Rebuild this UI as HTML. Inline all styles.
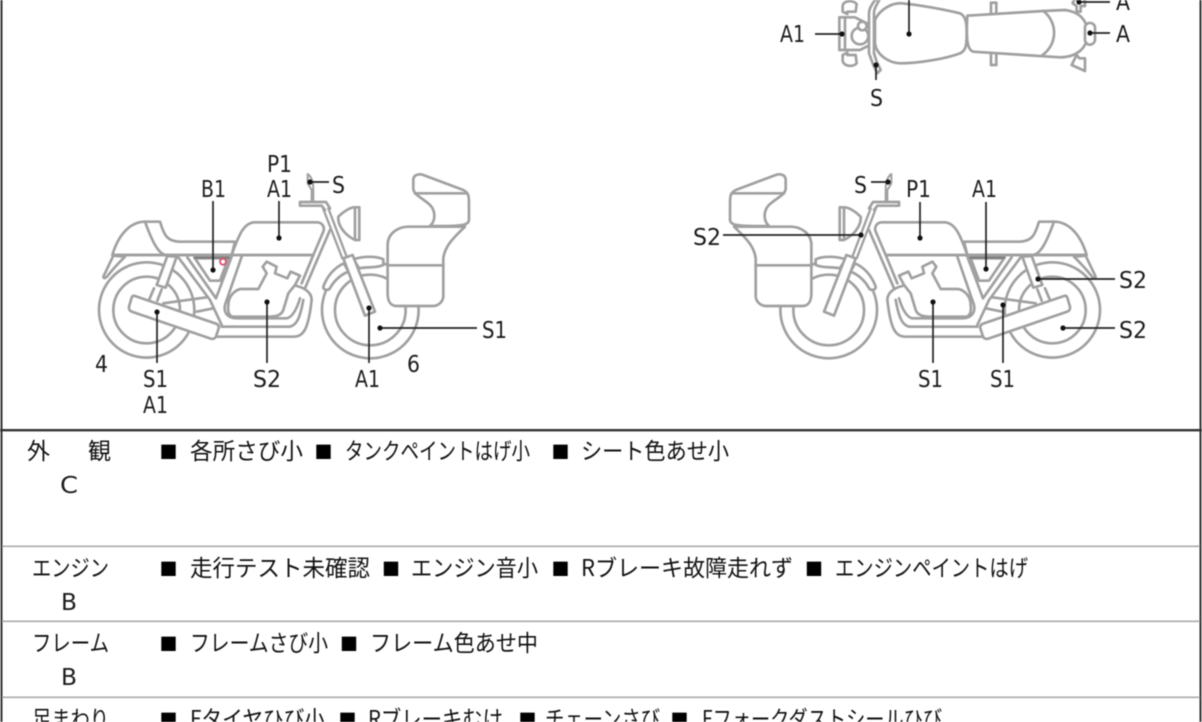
<!DOCTYPE html>
<html lang="ja"><head><meta charset="utf-8"><title>Motorcycle condition sheet</title>
<style>
html,body{margin:0;padding:0;background:#fff;width:1202px;height:722px;overflow:hidden}
svg{display:block;filter:blur(.4px)}
text{font-family:"Liberation Sans","Noto Sans CJK JP",sans-serif;fill:#222}
.j{font-family:"Noto Sans CJK JP",sans-serif;font-size:23px;fill:#111}
.l{font-family:"DejaVu Sans","Noto Sans CJK JP",sans-serif;font-size:23.5px;fill:#1c1c1c}
.m{font-family:"Noto Sans CJK JP",sans-serif;font-size:18px;fill:#000}
.d path,.d circle{fill:#fff;stroke:#a0a0a0;stroke-width:8;stroke-linejoin:round;stroke-linecap:round}
.d path.n{fill:none}
.k line{stroke:#222;stroke-width:1.7}
.k circle{fill:#111}
</style></head><body>
<svg width="1202" height="722" viewBox="0 0 1202 722" xmlns="http://www.w3.org/2000/svg">
<rect width="1202" height="722" fill="#fff"/>
<defs>
<g id="bike" class="d">
<circle cx="200" cy="510" r="143"/><circle cx="200" cy="510" r="100"/>
<circle cx="871" cy="510" r="145"/><circle cx="871" cy="510" r="106"/>
<path d="M262,348L230,435L257,443L290,350Z"/>
<path d="M222,445L208,478M245,448L232,482" class="n"/>
<path d="M100,347L70,410C72,418 78,414 85,405C100,385 120,365 135,350Z"/>
<path d="M97,345C115,285 150,245 195,245H240C250,275 255,305 300,305H465L455,345Z"/>
<path d="M195,245C215,300 235,345 260,345" class="n"/>
<path d="M100,345H700" class="n"/>
<path d="M295,352L390,480L425,555M322,352L408,475L455,350" class="n"/>
<path d="M345,355H445L420,422H390Z"/>
<path d="M343,353H447" class="n" style="stroke:#808080;stroke-width:7"/>
<path d="M485,350L435,495C430,520 445,535 470,535H620C635,533 650,510 660,475" class="n"/>
<path d="M425,560H630C650,555 660,535 670,480" class="n"/>
<path d="M410,590H640C670,590 685,570 695,480C695,455 670,440 635,435" class="n"/>
<path d="M250,490L380,472M350,515L400,505" class="n"/>
<path d="M445,495C445,465 470,447 485,447H535L560,400L548,380L560,365L590,380L585,400L622,415L632,395L660,407L645,435L625,460L610,510C605,525 590,530 570,530H460C445,530 443,510 445,495Z"/>
<path d="M700,345L665,430M750,270L675,445" class="n"/>
<path d="M455,345C475,290 490,247 525,247H710C728,247 735,262 730,275L700,345Z"/>
<path d="M165,468L405,550C415,553 418,558 416,565L408,590C405,596 398,598 392,596L155,515C148,512 145,505 148,497L155,473C157,468 160,466 165,468Z"/>
<path d="M730,440C745,400 770,380 792,370L805,395C780,405 760,425 750,445C745,452 730,452 730,440Z"/>
<path d="M820,358C850,348 890,348 910,358V375C890,385 860,380 838,385Z"/>
<path d="M775,230C790,215 810,202 825,202H838V300H825C805,290 780,270 775,240Z"/>
<path d="M825,203V299" class="n"/>
<path d="M745,205L800,350M730,207L787,355" class="n" style="stroke-width:7"/>
<path d="M790,355L818,345L885,515L855,527Z"/>
<path d="M660,186H738L750,205M660,197H725L735,210M660,186V197" class="n"/>
<path d="M695,182V150L683,130V102C695,110 700,125 700,150V182" class="n" style="stroke-width:6"/>
<path d="M1000,120C1000,105 1015,100 1030,105L1150,150C1165,158 1167,165 1167,190V240C1165,255 1150,260 1050,258C1070,240 1065,210 1050,195C1030,175 1000,165 1000,145Z"/>
<path d="M1005,160H1160" class="n"/>
<path d="M923,315C923,280 955,260 985,260H1155C1125,290 1095,315 1090,355V470C1088,490 1070,498 1060,498H950C930,498 923,480 923,460Z"/>
<path d="M923,376H1090" class="n"/>
</g>
</defs>
<g transform="translate(80,140) scale(.3333)"><use href="#bike"/></g>
<g transform="translate(1199,0) scale(-1,1) translate(80,140) scale(.3333)"><use href="#bike"/></g>

<g class="d" transform="translate(760,0) scale(.3333)">
<path d="M248,18C250,0 280,0 290,12L287,35H262L262,42L248,35Z"/>
<path d="M248,182C250,200 280,202 290,190L287,165H262V158L248,165Z"/>
<path d="M693,8H709V45H693ZM693,158H709V195H693Z"/>
<path d="M238,52H265V150H238Z"/>
<path d="M255,52H285L330,75V135L300,150H255Z"/>
<circle cx="300" cy="108" r="25"/><circle cx="307" cy="78" r="13"/>
<path d="M345,60C360,25 400,8 425,10C480,15 560,30 600,40C618,48 620,70 620,100C620,130 620,152 600,160C560,175 480,190 420,190C385,188 350,165 345,130Z"/>
<path d="M622,47L850,33L915,30C955,35 980,55 985,100C980,150 945,172 900,172L640,155C622,150 618,120 622,47Z"/>
<path d="M850,33C892,65 895,130 848,165" class="n"/>
<path d="M950,35V18L938,10C940,-5 965,-8 975,0V18H962V35Z"/>
<path d="M950,165L935,195L975,213V175H958Z"/>
<path d="M975,80C980,65 1000,65 1005,80V122C1000,138 980,138 975,122Z"/>
<path d="M345,0C335,15 327,25 327,40V160L340,195L352,220L362,210L350,185L342,160V40C342,25 350,15 358,0Z"/>
</g>

<g class="k">
<line x1="213" y1="201" x2="213" y2="270"/><circle cx="213" cy="270" r="2.6"/>
<line x1="279" y1="201" x2="279" y2="238"/><circle cx="279" cy="238" r="2.6"/>
<line x1="310" y1="182" x2="329" y2="182"/><circle cx="310" cy="182" r="2.6"/>
<line x1="267" y1="302" x2="267" y2="363"/><circle cx="267" cy="302" r="2.6"/>
<line x1="157" y1="312" x2="157" y2="363"/><circle cx="157" cy="312" r="2.6"/>
<line x1="369" y1="308" x2="369" y2="363"/><circle cx="369" cy="308" r="2.6"/>
<line x1="380" y1="328" x2="477" y2="328"/><circle cx="380" cy="328" r="2.6"/>
<line x1="871" y1="182" x2="888" y2="182"/><circle cx="888" cy="182" r="2.6"/>
<line x1="920" y1="202" x2="920" y2="238"/><circle cx="920" cy="238" r="2.6"/>
<line x1="986" y1="202" x2="986" y2="269"/><circle cx="986" cy="269" r="2.6"/>
<line x1="723" y1="235" x2="861" y2="235"/><circle cx="861" cy="235" r="2.6"/>
<line x1="1038" y1="279" x2="1115" y2="279"/><circle cx="1038" cy="279" r="2.6"/>
<line x1="1063" y1="328" x2="1115" y2="328"/><circle cx="1063" cy="328" r="2.6"/>
<line x1="933" y1="302" x2="933" y2="363"/><circle cx="933" cy="302" r="2.6"/>
<line x1="1003" y1="305" x2="1003" y2="363"/><circle cx="1003" cy="305" r="2.6"/>
<line x1="815" y1="34" x2="842" y2="34"/><circle cx="842" cy="34" r="2.6"/>
<line x1="909" y1="0" x2="909" y2="34"/><circle cx="909" cy="34" r="2.6"/>
<line x1="876" y1="65" x2="876" y2="80"/><circle cx="876" cy="65" r="2.6"/>
<line x1="1090" y1="33" x2="1110" y2="33"/><circle cx="1090" cy="33" r="2.6"/>
<line x1="1079" y1="2" x2="1110" y2="2"/><circle cx="1079" cy="2" r="2.6"/>
</g>
<circle cx="223" cy="261.7" r="3" fill="none" stroke="#d9526a" stroke-width="1.8"/>

<g>
<text class="l" x="267" y="172" textLength="25" lengthAdjust="spacingAndGlyphs">P1</text>
<text class="l" x="267" y="197" textLength="25" lengthAdjust="spacingAndGlyphs">A1</text>
<text class="l" x="201" y="197" textLength="25" lengthAdjust="spacingAndGlyphs">B1</text>
<text class="l" x="332" y="193" textLength="13" lengthAdjust="spacingAndGlyphs">S</text>
<text class="l" x="95" y="372" textLength="13" lengthAdjust="spacingAndGlyphs">4</text>
<text class="l" x="143" y="387" textLength="25" lengthAdjust="spacingAndGlyphs">S1</text>
<text class="l" x="143" y="413" textLength="25" lengthAdjust="spacingAndGlyphs">A1</text>
<text class="l" x="253" y="387" textLength="28" lengthAdjust="spacingAndGlyphs">S2</text>
<text class="l" x="355" y="387" textLength="25" lengthAdjust="spacingAndGlyphs">A1</text>
<text class="l" x="407" y="372" textLength="13" lengthAdjust="spacingAndGlyphs">6</text>
<text class="l" x="482" y="338" textLength="25" lengthAdjust="spacingAndGlyphs">S1</text>
<text class="l" x="854" y="193" textLength="13" lengthAdjust="spacingAndGlyphs">S</text>
<text class="l" x="906" y="197" textLength="25" lengthAdjust="spacingAndGlyphs">P1</text>
<text class="l" x="972" y="197" textLength="25" lengthAdjust="spacingAndGlyphs">A1</text>
<text class="l" x="693" y="245" textLength="28" lengthAdjust="spacingAndGlyphs">S2</text>
<text class="l" x="1119" y="288" textLength="28" lengthAdjust="spacingAndGlyphs">S2</text>
<text class="l" x="1119" y="338" textLength="28" lengthAdjust="spacingAndGlyphs">S2</text>
<text class="l" x="918" y="387" textLength="25" lengthAdjust="spacingAndGlyphs">S1</text>
<text class="l" x="990" y="387" textLength="25" lengthAdjust="spacingAndGlyphs">S1</text>
<text class="l" x="780" y="42" textLength="25" lengthAdjust="spacingAndGlyphs">A1</text>
<text class="l" x="1116" y="42" textLength="14" lengthAdjust="spacingAndGlyphs">A</text>
<text class="l" x="1116" y="10" textLength="14" lengthAdjust="spacingAndGlyphs">A</text>
<text class="l" x="870" y="106" textLength="13" lengthAdjust="spacingAndGlyphs">S</text>
</g>

<rect x="0.5" y="0" width="2" height="722" fill="#333"/>
<rect x="1199.5" y="0" width="2" height="722" fill="#333"/>
<rect x="0" y="429" width="1202" height="2.4" fill="#333"/>
<rect x="2" y="545.5" width="1198" height="1.6" fill="#aaa"/>
<rect x="2" y="620.5" width="1198" height="1.6" fill="#aaa"/>
<rect x="2" y="696.5" width="1198" height="1.6" fill="#aaa"/>

<text class="j" x="27" y="459">外</text><text class="j" x="88" y="459">観</text>
<text class="l" x="60" y="493" textLength="18" lengthAdjust="spacingAndGlyphs">C</text>
<text class="j" x="32" y="576" textLength="77" lengthAdjust="spacingAndGlyphs">エンジン</text>
<text class="l" x="61" y="610" textLength="16" lengthAdjust="spacingAndGlyphs">B</text>
<text class="j" x="32" y="651" textLength="77" lengthAdjust="spacingAndGlyphs">フレーム</text>
<text class="l" x="61" y="685" textLength="16" lengthAdjust="spacingAndGlyphs">B</text>
<text class="j" x="32" y="727" textLength="77" lengthAdjust="spacingAndGlyphs">足まわり</text>

<text class="m" x="159.5" y="459">■</text>
<text class="j" x="190" y="459" textLength="113" lengthAdjust="spacingAndGlyphs">各所さび小</text>
<text class="m" x="314.5" y="459">■</text>
<text class="j" x="345" y="459" textLength="185" lengthAdjust="spacingAndGlyphs">タンクペイントはげ小</text>
<text class="m" x="551.5" y="459">■</text>
<text class="j" x="581" y="459" textLength="148" lengthAdjust="spacingAndGlyphs">シート色あせ小</text>

<text class="m" x="159.5" y="576">■</text>
<text class="j" x="190" y="576" textLength="180" lengthAdjust="spacingAndGlyphs">走行テスト未確認</text>
<text class="m" x="382" y="576">■</text>
<text class="j" x="411" y="576" textLength="127" lengthAdjust="spacingAndGlyphs">エンジン音小</text>
<text class="m" x="551.5" y="576">■</text>
<text class="j" x="581" y="576" textLength="212" lengthAdjust="spacingAndGlyphs">Rブレーキ故障走れず</text>
<text class="m" x="805" y="576">■</text>
<text class="j" x="835" y="576" textLength="193" lengthAdjust="spacingAndGlyphs">エンジンペイントはげ</text>

<text class="m" x="159.5" y="651">■</text>
<text class="j" x="190" y="651" textLength="138" lengthAdjust="spacingAndGlyphs">フレームさび小</text>
<text class="m" x="340" y="651">■</text>
<text class="j" x="370" y="651" textLength="168" lengthAdjust="spacingAndGlyphs">フレーム色あせ中</text>

<text class="m" x="159.5" y="727">■</text>
<text class="j" x="190" y="727" textLength="135" lengthAdjust="spacingAndGlyphs">Fタイヤひび小</text>
<text class="m" x="338.5" y="727">■</text>
<text class="j" x="368" y="727" textLength="135" lengthAdjust="spacingAndGlyphs">Rブレーキむけ</text>
<text class="m" x="518.5" y="727">■</text>
<text class="j" x="545" y="727" textLength="115" lengthAdjust="spacingAndGlyphs">チェーンさび</text>
<text class="m" x="670.5" y="727">■</text>
<text class="j" x="702" y="727" textLength="240" lengthAdjust="spacingAndGlyphs">Fフォークダストシールひび</text>
</svg>
</body></html>
